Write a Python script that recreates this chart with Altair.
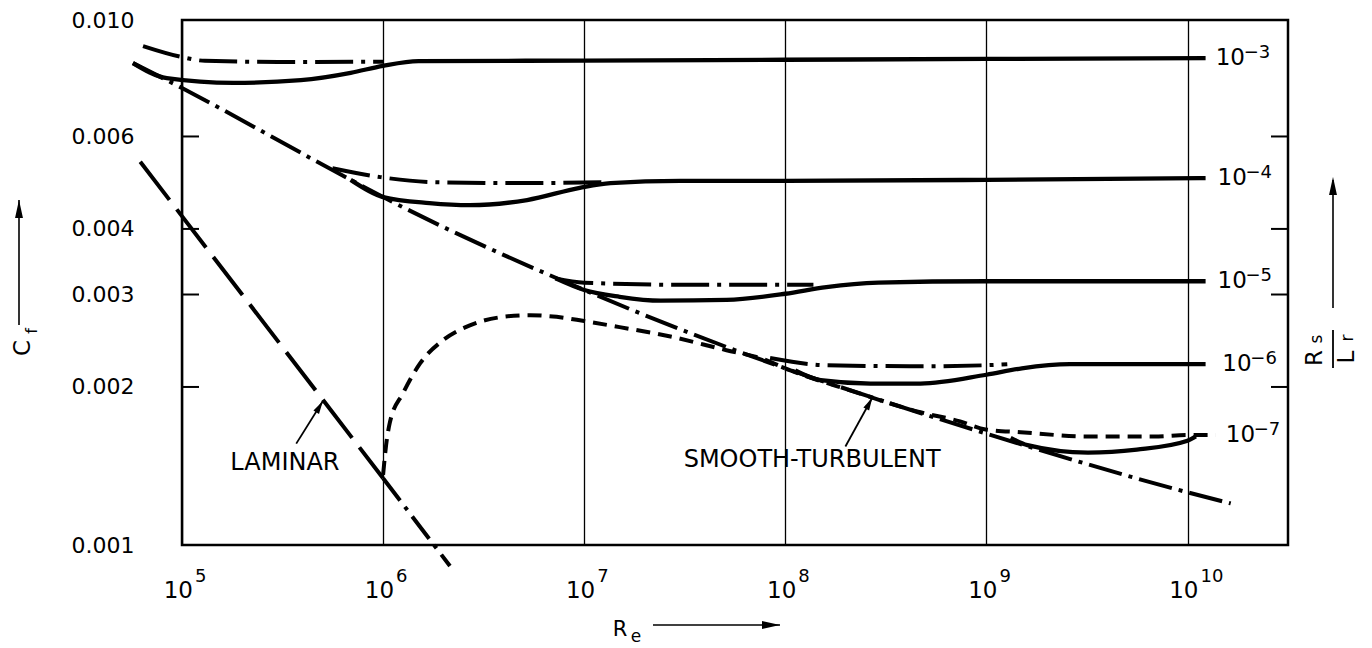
import altair as alt
import pandas as pd

FONT = "DejaVu Sans"
W, H = 1106, 525

# ---------------- data (Re, Cf) ----------------
smooth_re = [5.7e4, 1.0e5, 5.6e5, 1.0e6, 1.0e7, 1.0e8, 2.7e8, 1.0e9, 1.0e10, 1.64e10]
smooth_cf = [0.00828, 0.00742, 0.00518, 0.00460, 0.00306, 0.00217, 0.00191, 0.00163, 0.00126, 0.00120]

laminar_re = [6.2e4, 1.0e6]
laminar_cf = [0.00537, 0.00134]
laminar_ext_re = [1.0e6, 2.15e6]
laminar_ext_cf = [0.00134, 0.000912]

# roughness 1e-3
r3_dd_re = [6.4e4, 1.0e5, 1.3e5, 3.0e5, 1.0e6]
r3_dd_cf = [0.00892, 0.00850, 0.00836, 0.00832, 0.00833]
r3_re = [5.7e4, 8.4e4, 1.8e5, 3.9e5, 6.9e5, 1.0e6, 1.5e6, 1.0e7, 1.0e8, 1.0e9, 1.23e10]
r3_cf = [0.00828, 0.00775, 0.00759, 0.00768, 0.00793, 0.00818, 0.00835, 0.00837, 0.00840, 0.00843, 0.00846]

# roughness 1e-4
r4_dd_re = [5.6e5, 9.7e5, 1.8e6, 5.2e6, 1.24e7]
r4_dd_cf = [0.00522, 0.00502, 0.00491, 0.00489, 0.00491]
r4_re = [6.9e5, 1.0e6, 1.7e6, 2.7e6, 5.2e6, 9.5e6, 1.35e7, 3.0e7, 1.0e8, 1.0e9, 1.23e10]
r4_cf = [0.00496, 0.00460, 0.00448, 0.00444, 0.00454, 0.00479, 0.00489, 0.00494, 0.00494, 0.00496, 0.00500]

# roughness 1e-5
r5_dd_re = [7.2e6, 1.0e7, 3.4e7, 1.1e8, 1.38e8]
r5_dd_cf = [0.00322, 0.00316, 0.00313, 0.00313, 0.00313]
r5_re = [7.2e6, 1.0e7, 1.5e7, 2.4e7, 5.1e7, 1.0e8, 1.6e8, 2.9e8, 1.0e9, 1.23e10]
r5_cf = [0.00322, 0.00306, 0.00297, 0.00292, 0.00293, 0.00301, 0.00310, 0.00316, 0.00318, 0.00318]

# roughness 1e-6
r6_dd_re = [8.4e7, 1.6e8, 4.7e8, 1.0e9, 1.27e9]
r6_dd_cf = [0.00227, 0.00220, 0.00219, 0.00220, 0.00221]
r6_re = [1.12e8, 1.5e8, 2.65e8, 4.7e8, 1.0e9, 1.5e9, 2.6e9, 1.23e10]
r6_cf = [0.00215, 0.00206, 0.00203, 0.00203, 0.00211, 0.00217, 0.00221, 0.00221]

# roughness 1e-7: transition (short dashes) and its dip curve
r7_dash_re = [1.0e6, 1.035e6, 1.08e6, 1.26e6, 1.53e6, 2.0e6, 2.7e6, 3.95e6, 5.4e6, 7.3e6,
              1.0e7, 1.5e7, 2.5e7, 5.1e7, 7.5e7, 1.06e8, 2.1e8, 4.7e8, 7.4e8, 9.9e8,
              1.48e9, 3.2e9, 6.8e9, 1.0e10, 1.38e10]
r7_dash_cf = [0.00136, 0.00155, 0.00171, 0.00195, 0.00222, 0.00246, 0.00262, 0.00272, 0.00274, 0.00272,
              0.00267, 0.00260, 0.00251, 0.00235, 0.00227, 0.00215, 0.00197, 0.00179, 0.00172, 0.00166,
              0.00164, 0.00161, 0.00161, 0.00162, 0.00162]
r7_re = [1.32e9, 1.6e9, 3.2e9, 5.6e9, 1.0e10, 1.1e10]
r7_cf = [0.00160, 0.00155, 0.00150, 0.00152, 0.00158, 0.00161]

# right-hand roughness labels
rough_exp = ["\u22123", "\u22124", "\u22125", "\u22126", "\u22127"]
rough_label_re = [1.38e10, 1.41e10, 1.41e10, 1.49e10, 1.55e10]
rough_label_cf = [0.00846, 0.00500, 0.00318, 0.00221, 0.00162]

# axes
x_tick_re = [1e5, 1e6, 1e7, 1e8, 1e9, 1e10]
x_tick_exp = ["5", "6", "7", "8", "9", "10"]
y_label_cf = [0.001, 0.002, 0.003, 0.004, 0.006, 0.010]
inner_tick_cf = [0.002, 0.003, 0.004, 0.006]

# in-plot annotations
notes_text = ["LAMINAR", "SMOOTH-TURBULENT"]
notes_re = [3.25e5, 1.36e8]
notes_cf = [0.001433, 0.00145]
arrow_tail_re = [3.7e5, 1.99e8]
arrow_tail_cf = [0.00156, 0.00154]
arrow_tip_re = [5.02e5, 2.71e8]
arrow_tip_cf = [0.00188, 0.00191]
arrow_angle = [31, 28]

# ---------------- scales / axes ----------------
xscale = alt.Scale(type="log", domain=[1e5, 3.16e10], nice=False)
yscale = alt.Scale(type="log", domain=[0.001, 0.010], nice=False)

X_AXIS = alt.Axis(values=x_tick_re, labels=False, ticks=False, tickSize=0, domain=False,
                  title=None, grid=True, gridColor="black", gridWidth=1.3, gridOpacity=1)
Y_AXIS = alt.Axis(values=y_label_cf, format=".3f", labelFont=FONT, labelFontSize=22,
                  labelColor="black", labelPadding=48, labelFlush=False, labelOverlap=False,
                  labelBaseline="middle", ticks=False, tickSize=0, domain=False, grid=False,
                  title=None)

X = alt.X("Re:Q", scale=xscale, axis=X_AXIS)
Y = alt.Y("Cf:Q", scale=yscale, axis=Y_AXIS)

SMOOTH_DASH = [34, 7, 4, 7]
ROUGH_DASH = [38, 8, 4, 8]
LAM_DASH = [48, 12]
LAM_EXT_DASH = [28, 8, 4, 8]
TRANS_DASH = [14, 8]


def curve(re, cf, dash=None, width=4.0):
    d = pd.DataFrame({"Re": re, "Cf": cf, "i": list(range(len(re)))})
    kw = dict(color="black", strokeWidth=width, interpolate="monotone", strokeCap="butt")
    if dash:
        kw["strokeDash"] = dash
    return alt.Chart(d).mark_line(**kw).encode(x=X, y=Y, order="i:Q")


one = pd.DataFrame({"k": [0]})


def ptext(txt, x, y, size, angle=0, align="center", baseline="middle"):
    return alt.Chart(one).mark_text(text=txt, fontSize=size, font=FONT, angle=angle,
                                    align=align, baseline=baseline, color="black").encode(
        x=alt.value(x), y=alt.value(y))


def prule(x1, y1, x2, y2, w=1.6):
    return alt.Chart(one).mark_rule(color="black", strokeWidth=w).encode(
        x=alt.value(x1), y=alt.value(y1), x2=alt.value(x2), y2=alt.value(y2))


HEAD = "M0,0 L0.22,1 L-0.22,1 Z"
HEAD2 = "M0,0 L0.25,1 L-0.25,1 Z"


def phead(x, y, angle):
    return alt.Chart(one).mark_point(shape=HEAD, filled=True, size=1296, color="black",
                                     opacity=1, angle=angle).encode(x=alt.value(x), y=alt.value(y))


layers = []
# curves
layers.append(curve(smooth_re, smooth_cf, SMOOTH_DASH))
layers.append(curve(laminar_re, laminar_cf, LAM_DASH))
layers.append(curve(laminar_ext_re, laminar_ext_cf, LAM_EXT_DASH))
for dre, dcf, sre, scf in [(r3_dd_re, r3_dd_cf, r3_re, r3_cf), (r4_dd_re, r4_dd_cf, r4_re, r4_cf),
                           (r5_dd_re, r5_dd_cf, r5_re, r5_cf), (r6_dd_re, r6_dd_cf, r6_re, r6_cf)]:
    layers.append(curve(dre, dcf, ROUGH_DASH))
    layers.append(curve(sre, scf, None, 4.3))
layers.append(curve(r7_dash_re, r7_dash_cf, TRANS_DASH))
layers.append(curve(r7_re, r7_cf, None, 4.3))

# inward ticks
yt = pd.DataFrame({"Cf": inner_tick_cf})
layers.append(alt.Chart(yt).mark_rule(color="black", strokeWidth=2).encode(
    y=Y, x=alt.value(0), x2=alt.value(17)))
layers.append(alt.Chart(yt).mark_rule(color="black", strokeWidth=2).encode(
    y=Y, x=alt.value(W - 17), x2=alt.value(W)))

# x tick labels 10^n
xt = pd.DataFrame({"Re": x_tick_re, "exp": x_tick_exp})
layers.append(alt.Chart(xt).mark_text(text="10", fontSize=23, font=FONT, align="right",
                                      baseline="alphabetic", dx=11, color="black").encode(
    x=X, y=alt.value(H + 53)))
layers.append(alt.Chart(xt).mark_text(fontSize=18, font=FONT, align="left",
                                      baseline="alphabetic", dx=13, color="black").encode(
    x=X, y=alt.value(H + 37), text="exp:N"))

# right-hand roughness labels
rl = pd.DataFrame({"Re": rough_label_re, "Cf": rough_label_cf, "exp": rough_exp})
layers.append(alt.Chart(rl).mark_text(text="10", fontSize=23, font=FONT, align="left",
                                      baseline="alphabetic", dy=7, color="black").encode(x=X, y=Y))
layers.append(alt.Chart(rl).mark_text(fontSize=18, font=FONT, align="left",
                                      baseline="alphabetic", dx=28, dy=0, color="black").encode(
    x=X, y=Y, text="exp:N"))

# in-plot annotations
nt = pd.DataFrame({"Re": notes_re, "Cf": notes_cf, "t": notes_text})
layers.append(alt.Chart(nt).mark_text(fontSize=24, font=FONT, color="black", align="center",
                                      baseline="middle").encode(x=X, y=Y, text="t:N"))
ar = pd.DataFrame({"Re": arrow_tail_re, "Cf": arrow_tail_cf,
                   "Re2": arrow_tip_re, "Cf2": arrow_tip_cf, "a": arrow_angle})
layers.append(alt.Chart(ar).mark_rule(color="black", strokeWidth=1.8).encode(
    x=X, y=Y, x2="Re2:Q", y2="Cf2:Q"))
for tre, tcf, ang in zip(arrow_tip_re, arrow_tip_cf, arrow_angle):
    hd = pd.DataFrame({"Re": [tre], "Cf": [tcf]})
    layers.append(alt.Chart(hd).mark_point(shape=HEAD2, filled=True, size=676, color="black",
                                           opacity=1, angle=ang).encode(x=X, y=Y))

# axis titles with arrows (outside the plot area)
layers.append(ptext("C", -159, 328, 23, angle=270))
layers.append(ptext("f", -150, 311, 16, angle=270))
layers.append(prule(-163, 305, -163, 180))
layers.append(phead(-163, 180, 0))

layers.append(ptext("R", 438, 610, 21))
layers.append(ptext("e", 454, 617, 17))
layers.append(prule(471, 605, 598, 605))
layers.append(phead(598, 605, 90))

layers.append(ptext("R", 1133, 338, 23, angle=270))
layers.append(ptext("s", 1135, 319, 17, angle=270))
layers.append(prule(1151, 310, 1151, 348, 1.8))
layers.append(ptext("L", 1165, 337, 23, angle=270))
layers.append(ptext("r", 1166, 318, 17, angle=270))
layers.append(prule(1151, 288, 1151, 160))
layers.append(phead(1151, 157, 0))

chart = alt.layer(*layers).properties(
    width=W, height=H,
    padding={"left": 182, "top": 20, "right": 84, "bottom": 103},
    autosize=alt.AutoSizeParams(type="none"),
    background="white",
).configure_view(stroke="black", strokeWidth=2.5)

chart.save("out.html", embed_options={"renderer": "svg", "actions": False})
